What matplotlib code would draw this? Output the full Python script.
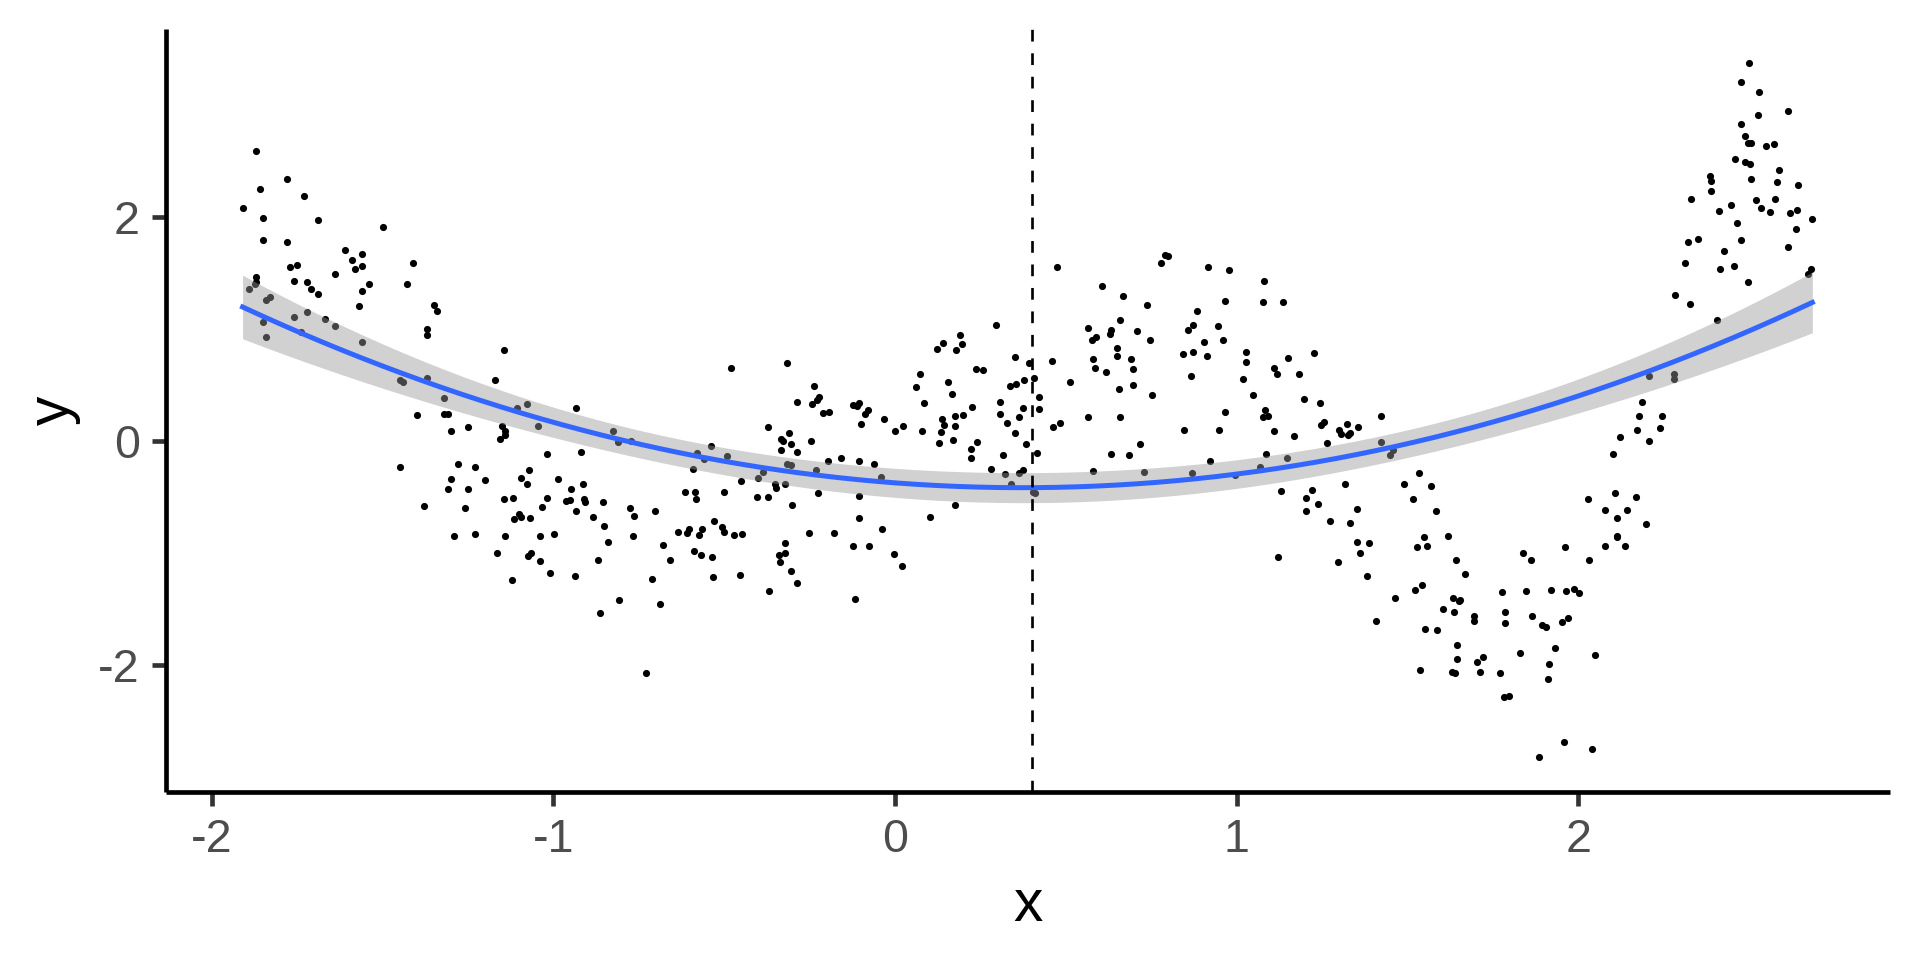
import numpy as np
import matplotlib
matplotlib.use("Agg")
import matplotlib.pyplot as plt

x_obs = [
    -1.87, -1.78, -1.86, -1.73, -1.91, -1.85, -1.69, -1.50, -1.85, -1.78, -1.61, -1.56, -1.59, -1.56,
    -1.58, -1.75, -1.77, -1.41, -1.64, -1.87, -1.87, -1.874, -1.76, -1.72, -1.54, -1.43, -1.89, -1.71,
    -1.69, -1.56, -1.84, -1.83, -1.57, -1.35, -1.34, -1.72, -1.76, -1.67, -1.64, -1.85, -1.74, -1.84,
    -1.37, -1.37, -1.56, -1.45, -1.44, -1.37, -1.17, -1.32, -1.40, -1.32, -1.31, -1.30, -1.25, -1.45,
    -1.28, -1.23, -1.30, -1.20, -1.31, -1.25, -1.38, -1.26, -1.29, -1.23,
    -1.145, -1.108, -1.076, -1.046, -1.151, -1.142, -1.142, -1.156, -0.934, -1.018, -0.920, -0.826,
    -0.811, -0.774, -0.479, -0.540, -0.493, -0.581, -0.558, -0.592, -0.371, -0.386, -0.402, -0.452,
    -1.073, -1.094, -1.078, -0.988, -0.948, -0.914, -1.146, -1.117, -1.019, -1.034, -0.963, -0.951,
    -0.911, -0.908, -0.933, -0.855, -1.102, -1.094, -1.114, -1.069, -0.883, -0.852, -0.775, -0.764,
    -0.704, -1.143, -1.039, -0.999, -0.841, -0.767, -1.166, -1.075, -1.067, -1.039, -1.122, -1.009,
    -0.938, -0.869, -0.679, -0.660, -0.711, -0.807, -0.863, -0.687, -0.729, -0.616, -0.585, -0.582,
    -0.500, -0.405, -0.371, -0.634, -0.610, -0.602, -0.574, -0.565, -0.530, -0.506, -0.501, -0.471,
    -0.447, -0.588, -0.567, -0.535, -0.533, -0.455, -0.368,
    -0.315, -0.236, -0.223, -0.229, -0.244, -0.288, -0.212, -0.192, -0.122, -0.107, -0.112, -0.080,
    -0.089, -0.100, -0.033, -0.001, 0.023, -0.311, -0.334, -0.327, -0.304, -0.333, -0.286, -0.246,
    -0.195, -0.158, -0.105, -0.063, -0.040, -0.231, -0.315, -0.304, -0.351, -0.348, -0.321, -0.227,
    -0.302, -0.107, -0.105, -0.253, -0.179, -0.322, -0.339, -0.321, -0.337, -0.306, -0.287, -0.124,
    -0.075, -0.037, -0.004, 0.020, -0.117, 0.061, 0.073, 0.086, 0.079, 0.124, 0.140, 0.156, 0.166,
    0.138, 0.143, 0.134, 0.128, 0.169, 0.175, 0.174, 0.200, 0.178, 0.195, 0.191, 0.225, 0.238, 0.258,
    0.294, 0.221, 0.241, 0.221, 0.176, 0.102, 0.280, 0.322, 0.339, 0.362, 0.373, 0.315, 0.307, 0.306,
    0.328, 0.335, 0.355, 0.350, 0.377, 0.362, 0.350, 0.382, 0.393, 0.407, 0.420, 0.420, 0.375, 0.415,
    0.403, 0.411,
    0.473, 0.458, 0.513, 0.462, 0.482, 0.578, 0.606, 0.667, 0.565, 0.589, 0.577, 0.632, 0.629, 0.658,
    0.650, 0.649, 0.579, 0.585, 0.617, 0.691, 0.697, 0.695, 0.655, 0.709, 0.738, 0.746, 0.753, 0.564,
    0.658, 0.716, 0.632, 0.684, 0.728, 0.779, 0.790, 0.798, 0.915, 0.978, 1.079, 0.967, 1.077, 1.136,
    0.883, 0.871, 0.857, 0.944, 0.960, 0.903, 0.844, 0.872, 0.913, 0.866, 1.026, 1.028, 1.019, 1.049,
    1.109, 1.117, 1.151, 1.181, 1.198, 0.967, 1.084, 1.078, 1.093, 1.109, 1.167, 0.847, 0.947, 0.922,
    0.870, 0.994, 1.067, 1.087, 1.147, 1.131, 1.204, 1.204, 1.122,
    1.220, 1.225, 1.243, 1.246, 1.256, 1.263, 1.300, 1.305, 1.324, 1.331, 1.325, 1.356, 1.421, 1.423,
    1.457, 1.448, 1.238, 1.318, 1.351, 1.274, 1.333, 1.353, 1.388, 1.362, 1.297, 1.382, 1.408, 1.462,
    1.490, 1.533, 1.569, 1.516, 1.583, 1.549, 1.529, 1.556, 1.618, 1.641, 1.667, 1.522, 1.542, 1.632,
    1.650, 1.655, 1.605, 1.635, 1.551, 1.585, 1.694, 1.695, 1.645, 1.646, 1.537, 1.631, 1.639, 1.704,
    1.721, 1.713, 1.771, 1.781, 1.796, 1.776, 1.785, 1.784, 1.828, 1.837, 1.862, 1.846, 1.865, 1.895,
    1.904, 1.920, 1.932, 1.914, 1.911, 1.961, 1.963, 1.952, 1.969, 1.958, 1.884,
    1.987, 2.001, 2.050, 2.039, 2.027, 2.032, 2.078, 2.113, 2.112, 2.136, 2.199, 2.114, 2.143, 2.078,
    2.107, 2.168, 2.101, 2.122, 2.173, 2.178, 2.207, 2.185, 2.240, 2.244, 2.206, 2.280, 2.280, 2.283,
    2.326, 2.312, 2.320, 2.351, 2.329, 2.405, 2.386, 2.387, 2.387, 2.412, 2.415, 2.427, 2.447, 2.457,
    2.463, 2.475, 2.459, 2.496, 2.477, 2.500, 2.528, 2.527, 2.477, 2.489, 2.498, 2.505, 2.489, 2.502,
    2.504, 2.521, 2.535, 2.548, 2.572, 2.586, 2.581, 2.577, 2.561, 2.614, 2.643, 2.621, 2.639, 2.636,
    2.614, 2.685, 2.681, 2.672,
]
y_obs = [
    2.59, 2.34, 2.25, 2.18, 2.08, 1.99, 1.97, 1.91, 1.79, 1.77, 1.70, 1.67, 1.61, 1.56,
    1.53, 1.57, 1.55, 1.59, 1.49, 1.46, 1.42, 1.40, 1.43, 1.42, 1.40, 1.40, 1.35, 1.35,
    1.31, 1.34, 1.26, 1.28, 1.20, 1.21, 1.16, 1.15, 1.10, 1.09, 1.02, 1.06, 0.97, 0.93,
    1.00, 0.94, 0.88, 0.54, 0.52, 0.56, 0.54, 0.38, 0.23, 0.24, 0.24, 0.09, 0.12, -0.23,
    -0.21, -0.23, -0.34, -0.35, -0.43, -0.43, -0.58, -0.60, -0.85, -0.83,
    0.81, 0.29, 0.33, 0.13, 0.13, 0.09, 0.05, 0.02, 0.29, -0.12, -0.10, 0.09,
    -0.01, 0.00, 0.65, -0.05, -0.14, -0.11, -0.16, -0.25, 0.12, -0.28, -0.33, -0.36,
    -0.26, -0.33, -0.39, -0.34, -0.43, -0.39, -0.52, -0.51, -0.51, -0.59, -0.54, -0.53,
    -0.52, -0.55, -0.63, -0.55, -0.65, -0.68, -0.70, -0.69, -0.68, -0.76, -0.60, -0.67,
    -0.63, -0.85, -0.85, -0.83, -0.90, -0.85, -1.00, -1.03, -1.00, -1.07, -1.24, -1.18,
    -1.21, -1.06, -0.93, -1.06, -1.23, -1.42, -1.54, -1.46, -2.07, -0.46, -0.46, -0.52,
    -0.46, -0.50, -0.50, -0.81, -0.82, -0.79, -0.84, -0.79, -0.72, -0.77, -0.81, -0.84,
    -0.83, -0.98, -1.02, -1.04, -1.22, -1.20, -1.34,
    0.69, 0.49, 0.39, 0.36, 0.33, 0.35, 0.25, 0.26, 0.32, 0.34, 0.31, 0.27,
    0.24, 0.15, 0.19, 0.09, 0.13, 0.07, 0.02, 0.00, -0.03, -0.08, -0.10, 0.00,
    -0.18, -0.15, -0.18, -0.21, -0.32, -0.26, -0.21, -0.22, -0.39, -0.42, -0.39, -0.47,
    -0.57, -0.49, -0.69, -0.82, -0.82, -0.91, -1.02, -1.00, -1.08, -1.16, -1.27, -0.94,
    -0.94, -0.79, -1.01, -1.12, -1.41, 0.48, 0.60, 0.34, 0.09, 0.82, 0.87, 0.52, 0.42,
    0.19, 0.14, 0.08, -0.02, 0.01, 0.13, 0.22, 0.23, 0.81, 0.86, 0.94, 0.30, 0.64, 0.63,
    1.03, -0.07, -0.01, -0.15, -0.57, -0.68, -0.25, -0.30, -0.39, -0.29, -0.26, -0.13, 0.35, 0.24,
    0.16, 0.49, 0.51, 0.75, 0.54, 0.21, 0.07, -0.03, 0.69, 0.56, 0.39, 0.28, 0.29, -0.11,
    -0.46, -0.47,
    1.55, 0.71, 0.52, 0.12, 0.16, -0.27, 1.38, 1.29, 1.01, 0.93, 0.90, 0.99, 0.95, 1.08,
    0.83, 0.76, 0.73, 0.65, 0.61, 0.73, 0.64, 0.50, 0.46, 0.98, 1.21, 0.90, 0.41, 0.21,
    0.21, -0.03, -0.12, -0.13, -0.28, 1.59, 1.66, 1.65, 1.55, 1.52, 1.43, 1.25, 1.24, 1.24,
    1.16, 1.03, 0.99, 1.02, 0.90, 0.88, 0.77, 0.79, 0.76, 0.58, 0.79, 0.70, 0.55, 0.41,
    0.65, 0.60, 0.74, 0.60, 0.37, 0.26, 0.27, 0.21, 0.22, 0.09, 0.04, 0.10, 0.10, -0.18,
    -0.29, -0.31, -0.23, -0.12, -0.15, -0.45, -0.51, -0.63, -1.04,
    -0.44, 0.78, 0.34, 0.14, 0.17, -0.02, 0.10, 0.06, 0.15, 0.07, 0.05, 0.12, 0.22, -0.01,
    -0.08, -0.13, -0.56, -0.39, -0.61, -0.72, -0.73, -0.90, -0.91, -1.00, -1.08, -1.21, -1.61, -1.40,
    -0.39, -0.29, -0.40, -0.52, -0.63, -0.86, -0.95, -0.94, -0.85, -1.06, -1.19, -1.33, -1.29, -1.40,
    -1.43, -1.42, -1.50, -1.53, -1.68, -1.69, -1.56, -1.61, -1.82, -1.95, -2.05, -2.06, -2.07, -1.97,
    -1.93, -2.06, -2.07, -2.29, -2.28, -1.35, -1.53, -1.63, -1.89, -1.00, -1.06, -1.34, -1.56, -1.64,
    -1.66, -1.33, -1.85, -1.99, -2.13, -0.95, -1.34, -1.62, -1.58, -2.69, -2.82,
    -1.32, -1.36, -1.91, -2.75, -0.52, -1.06, -0.94, -0.86, -0.85, -0.94, -0.74, -0.69, -0.62, -0.62,
    -0.47, -0.50, -0.12, 0.03, 0.10, 0.22, 0.00, 0.35, 0.11, 0.22, 0.58, 0.60, 0.55, 1.30,
    1.22, 1.59, 1.77, 1.80, 2.16, 1.08, 2.36, 2.32, 2.23, 2.05, 1.53, 1.69, 2.10, 1.56,
    1.94, 1.79, 2.51, 1.42, 3.20, 3.37, 3.11, 2.91, 2.83, 2.72, 2.66, 2.66, 2.49, 2.47,
    2.34, 2.15, 2.08, 2.63, 2.65, 2.42, 2.31, 2.16, 2.04, 2.94, 2.28, 2.03, 2.06, 1.89,
    1.73, 1.98, 1.53, 1.49,
]

x_ref = 0.4          # dashed reference line
x_ticks = [-2, -1, 0, 1, 2]
y_ticks = [-2, 0, 2]

x = np.array(x_obs)
y = np.array(y_obs)

# quadratic lm fit with 95% confidence band (like geom_smooth(method = "lm", y ~ poly(x, 2)))
X = np.vander(x, 3)
beta, *_ = np.linalg.lstsq(X, y, rcond=None)
resid = y - X @ beta
s2 = resid @ resid / (len(x) - 3)
cov = s2 * np.linalg.inv(X.T @ X)
xs = np.linspace(x.min(), x.max(), 80)
Xs = np.vander(xs, 3)
fit = Xs @ beta
se = np.sqrt(np.einsum("ij,jk,ik->i", Xs, cov, Xs))
t_crit = 1.965
lo, hi = fit - t_crit * se, fit + t_crit * se

plt.rcParams["font.family"] = ["Liberation Sans", "DejaVu Sans"]
plt.rcParams["axes.unicode_minus"] = False

fig = plt.figure(figsize=(8, 4), dpi=240)
ax = fig.add_axes([0.0863, 0.1753, 0.8982, 0.7942])

ax.scatter(x, y, s=4.6, color="black", linewidths=0, zorder=2)
ax.fill_between(xs, lo, hi, color="#999999", alpha=0.45, linewidth=0, zorder=3)
ax.plot(xs, fit, color="#3366FF", linewidth=1.5, zorder=4)
ax.axvline(x_ref, color="black", linewidth=0.8, dashes=(4.4, 4.4), zorder=5)

ax.set_xlim(-2.135, 2.913)
ax.set_ylim(-3.132, 3.672)
ax.set_xticks(x_ticks)
ax.set_yticks(y_ticks)
ax.set_xticklabels([str(v) for v in x_ticks])
ax.set_yticklabels([str(v) for v in y_ticks])

for side in ["top", "right"]:
    ax.spines[side].set_visible(False)
for side in ["left", "bottom"]:
    ax.spines[side].set_linewidth(1.4)
    ax.spines[side].set_color("black")
    ax.spines[side].set_capstyle("butt")

ax.tick_params(axis="both", length=4.2, width=1.4, color="#333333",
               labelsize=14, labelcolor="#4D4D4D", pad=3.6)

ax.set_xlabel("x", fontsize=17.6, color="black", labelpad=5)
ax.set_ylabel("y", fontsize=17.6, color="black", labelpad=5)

fig.savefig("out.png", dpi=240, facecolor="white")
